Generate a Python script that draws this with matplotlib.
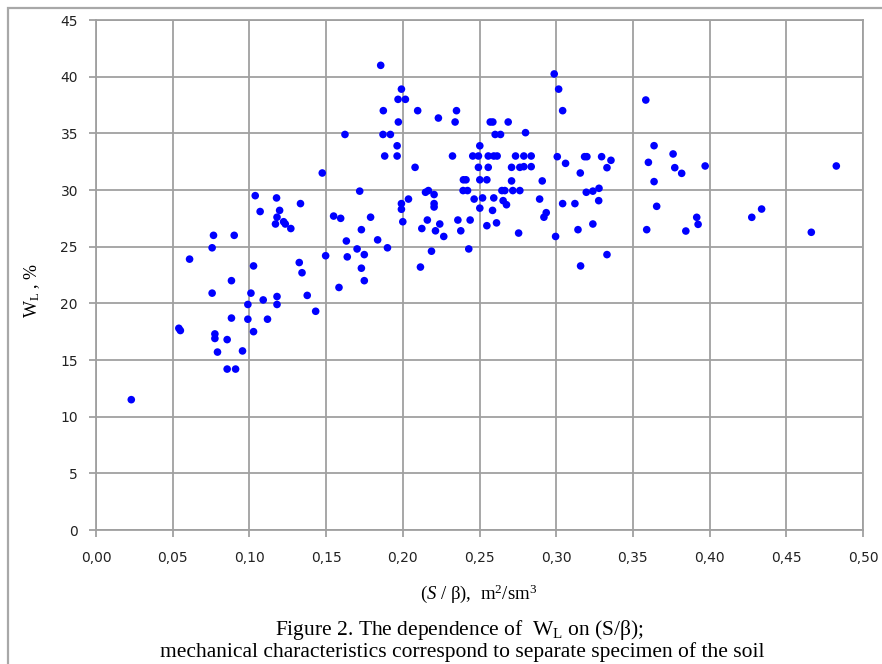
import matplotlib
matplotlib.use('Agg')

import matplotlib.pyplot as plt
from matplotlib.patches import Rectangle
from matplotlib.ticker import FuncFormatter

# (S/beta) values
s_beta = [
    0.023, 0.054, 0.055, 0.061, 0.0757, 0.0766, 0.0901, 0.0883, 0.0757, 0.0775,
    0.0775, 0.0792, 0.0855, 0.0883, 0.0855, 0.0910, 0.0955, 0.099, 0.101, 0.099,
    0.1027, 0.1027, 0.109, 0.1118, 0.118, 0.118, 0.1038, 0.107, 0.1177, 0.1197,
    0.118, 0.117, 0.1223, 0.1234, 0.127,
    0.1333, 0.1325, 0.1343, 0.1377, 0.1432, 0.1475, 0.1497, 0.1549, 0.1595, 0.1584,
    0.1623, 0.1632, 0.1638, 0.1702, 0.1719, 0.173, 0.173, 0.1749, 0.1749, 0.179,
    0.1836, 0.19, 0.1856, 0.1873, 0.1871, 0.1919, 0.1882, 0.1963, 0.1963, 0.1971,
    0.1969, 0.2017, 0.1991, 0.1991, 0.1991, 0.2, 0.2037,
    0.208, 0.2097, 0.2124, 0.2115, 0.2148, 0.2167, 0.2204, 0.2204, 0.2204, 0.216,
    0.2241, 0.2213, 0.2267, 0.2187, 0.2232, 0.235, 0.2341, 0.2324, 0.2359, 0.2378,
    0.2439, 0.243, 0.2395, 0.2412, 0.2393, 0.2422, 0.2465, 0.2456, 0.2493, 0.2493,
    0.2502, 0.2502, 0.2502,
    0.252, 0.2548, 0.2557, 0.2557, 0.2593, 0.2615, 0.257, 0.2587, 0.2602, 0.2637,
    0.2593, 0.2585, 0.2548, 0.2611, 0.2646, 0.2665, 0.2654, 0.2676, 0.2687, 0.2709,
    0.2763, 0.2789, 0.2837, 0.2735, 0.2789, 0.2837, 0.28, 0.2709, 0.2717, 0.2763,
    0.2755, 0.2892, 0.2909, 0.2935, 0.292, 0.2987, 0.3016, 0.3042, 0.3007, 0.2996,
    0.3061, 0.3042, 0.3122, 0.3157, 0.3142, 0.3159, 0.3185, 0.32, 0.3196, 0.3239,
    0.3279, 0.3277, 0.3239, 0.3296, 0.3357, 0.3331, 0.3331,
    0.3584, 0.3601, 0.3638, 0.3762, 0.3773, 0.3818, 0.3971, 0.3638, 0.3655, 0.359,
    0.3845, 0.3916, 0.3925, 0.4275, 0.4339, 0.4663, 0.4826,
]

# liquid limit W_L, %
w_l = [
    11.5, 17.8, 17.6, 23.9, 24.9, 26.0, 26.0, 22.0, 20.9, 17.3,
    16.9, 15.7, 16.8, 18.7, 14.2, 14.2, 15.8, 19.9, 20.9, 18.6,
    17.5, 23.3, 20.3, 18.6, 20.6, 19.9, 29.5, 28.1, 29.3, 28.2,
    27.6, 27.0, 27.2, 27.0, 26.6,
    28.8, 23.6, 22.7, 20.7, 19.3, 31.5, 24.2, 27.7, 27.5, 21.4,
    34.9, 25.5, 24.1, 24.8, 29.9, 26.5, 23.1, 24.3, 22.0, 27.6,
    25.6, 24.9, 41.0, 37.0, 34.9, 34.9, 33.0, 33.0, 33.9, 36.0,
    38.0, 38.0, 38.9, 28.8, 28.3, 27.2, 29.2,
    32.0, 37.0, 26.6, 23.2, 29.8, 29.95, 29.6, 28.8, 28.5, 27.35,
    27.0, 26.4, 25.9, 24.6, 36.35, 37.0, 36.0, 33.0, 27.35, 26.4,
    27.35, 24.8, 30.9, 30.9, 29.95, 29.95, 29.2, 33.0, 33.0, 32.0,
    33.9, 30.9, 28.4,
    29.3, 30.9, 33.0, 32.0, 33.0, 33.0, 36.0, 36.0, 34.9, 34.9,
    29.3, 28.2, 26.85, 27.1, 29.95, 29.95, 29.06, 28.7, 36.0, 32.0,
    32.0, 32.06, 32.06, 33.0, 33.0, 33.0, 35.06, 30.8, 29.95, 29.95,
    26.2, 29.2, 30.8, 28.0, 27.6, 40.24, 38.9, 37.0, 32.94, 25.9,
    32.35, 28.8, 28.8, 31.5, 26.5, 23.3, 32.94, 32.94, 29.8, 29.9,
    30.15, 29.06, 27.0, 32.94, 32.62, 31.97, 24.3,
    37.94, 32.44, 33.91, 33.18, 31.97, 31.47, 32.12, 30.74, 28.56, 26.5,
    26.38, 27.59, 26.97, 27.59, 28.32, 26.27, 32.12,
]

x_ticks = [0.00, 0.05, 0.10, 0.15, 0.20, 0.25, 0.30, 0.35, 0.40, 0.45, 0.50]
y_ticks = [0, 5, 10, 15, 20, 25, 30, 35, 40, 45]

plt.rcParams['mathtext.fontset'] = 'custom'
plt.rcParams['mathtext.rm'] = 'Liberation Serif'
plt.rcParams['mathtext.it'] = 'Liberation Serif:italic'

grid_col = '#a0a0a0'

fig = plt.figure(figsize=(8.82, 6.64), dpi=100)
ax = fig.add_axes([96 / 882, 1 - 530 / 664, (863 - 96) / 882, (530 - 20) / 664])

ax.scatter(s_beta, w_l, s=30, color='#0000ff', edgecolors='none', zorder=3)

ax.set_xlim(0, 0.5)
ax.set_ylim(0, 45)
ax.set_xticks(x_ticks)
ax.set_yticks(y_ticks)
ax.xaxis.set_major_formatter(FuncFormatter(lambda v, p: f"{v:.2f}".replace('.', ',')))
ax.grid(True, color=grid_col, lw=1.3)
ax.set_axisbelow(True)
for sp in ax.spines.values():
    sp.set_color(grid_col)
    sp.set_linewidth(1.3)
ax.tick_params(axis='both', colors=grid_col, length=5, width=1.3, labelcolor='#222222',
               labelsize=10)
ax.tick_params(axis='x', pad=10)
ax.tick_params(axis='y', pad=8)

ax.set_ylabel(r'W$_{\mathrm{L}}$ , %', family='Liberation Serif', fontsize=13)
ax.yaxis.set_label_coords(-0.071, 0.47)
fig.text(479 / 882, 1 - 594 / 664, r'($\mathit{S}$ / β),  m$^{2}$/sm$^{3}$',
         family='Liberation Serif', fontsize=13.5, ha='center', va='center')

fig.text(460 / 882, 1 - 630 / 664, r'Figure 2. The dependence of  W$_{\mathrm{L}}$ on (S/β);',
         family='Liberation Serif', fontsize=15.5, ha='center', va='center')
fig.text(462 / 882, 1 - 652 / 664,
         'mechanical characteristics correspond to separate specimen of the soil',
         family='Liberation Serif', fontsize=15.5, ha='center', va='center')

# chart border
fig.add_artist(Rectangle((8 / 882, -0.1), 1.2, 1.1 - 8 / 664, transform=fig.transFigure,
                         fill=False, edgecolor='#a8a8a8', lw=1.6))

fig.savefig('out.png', dpi=100)
